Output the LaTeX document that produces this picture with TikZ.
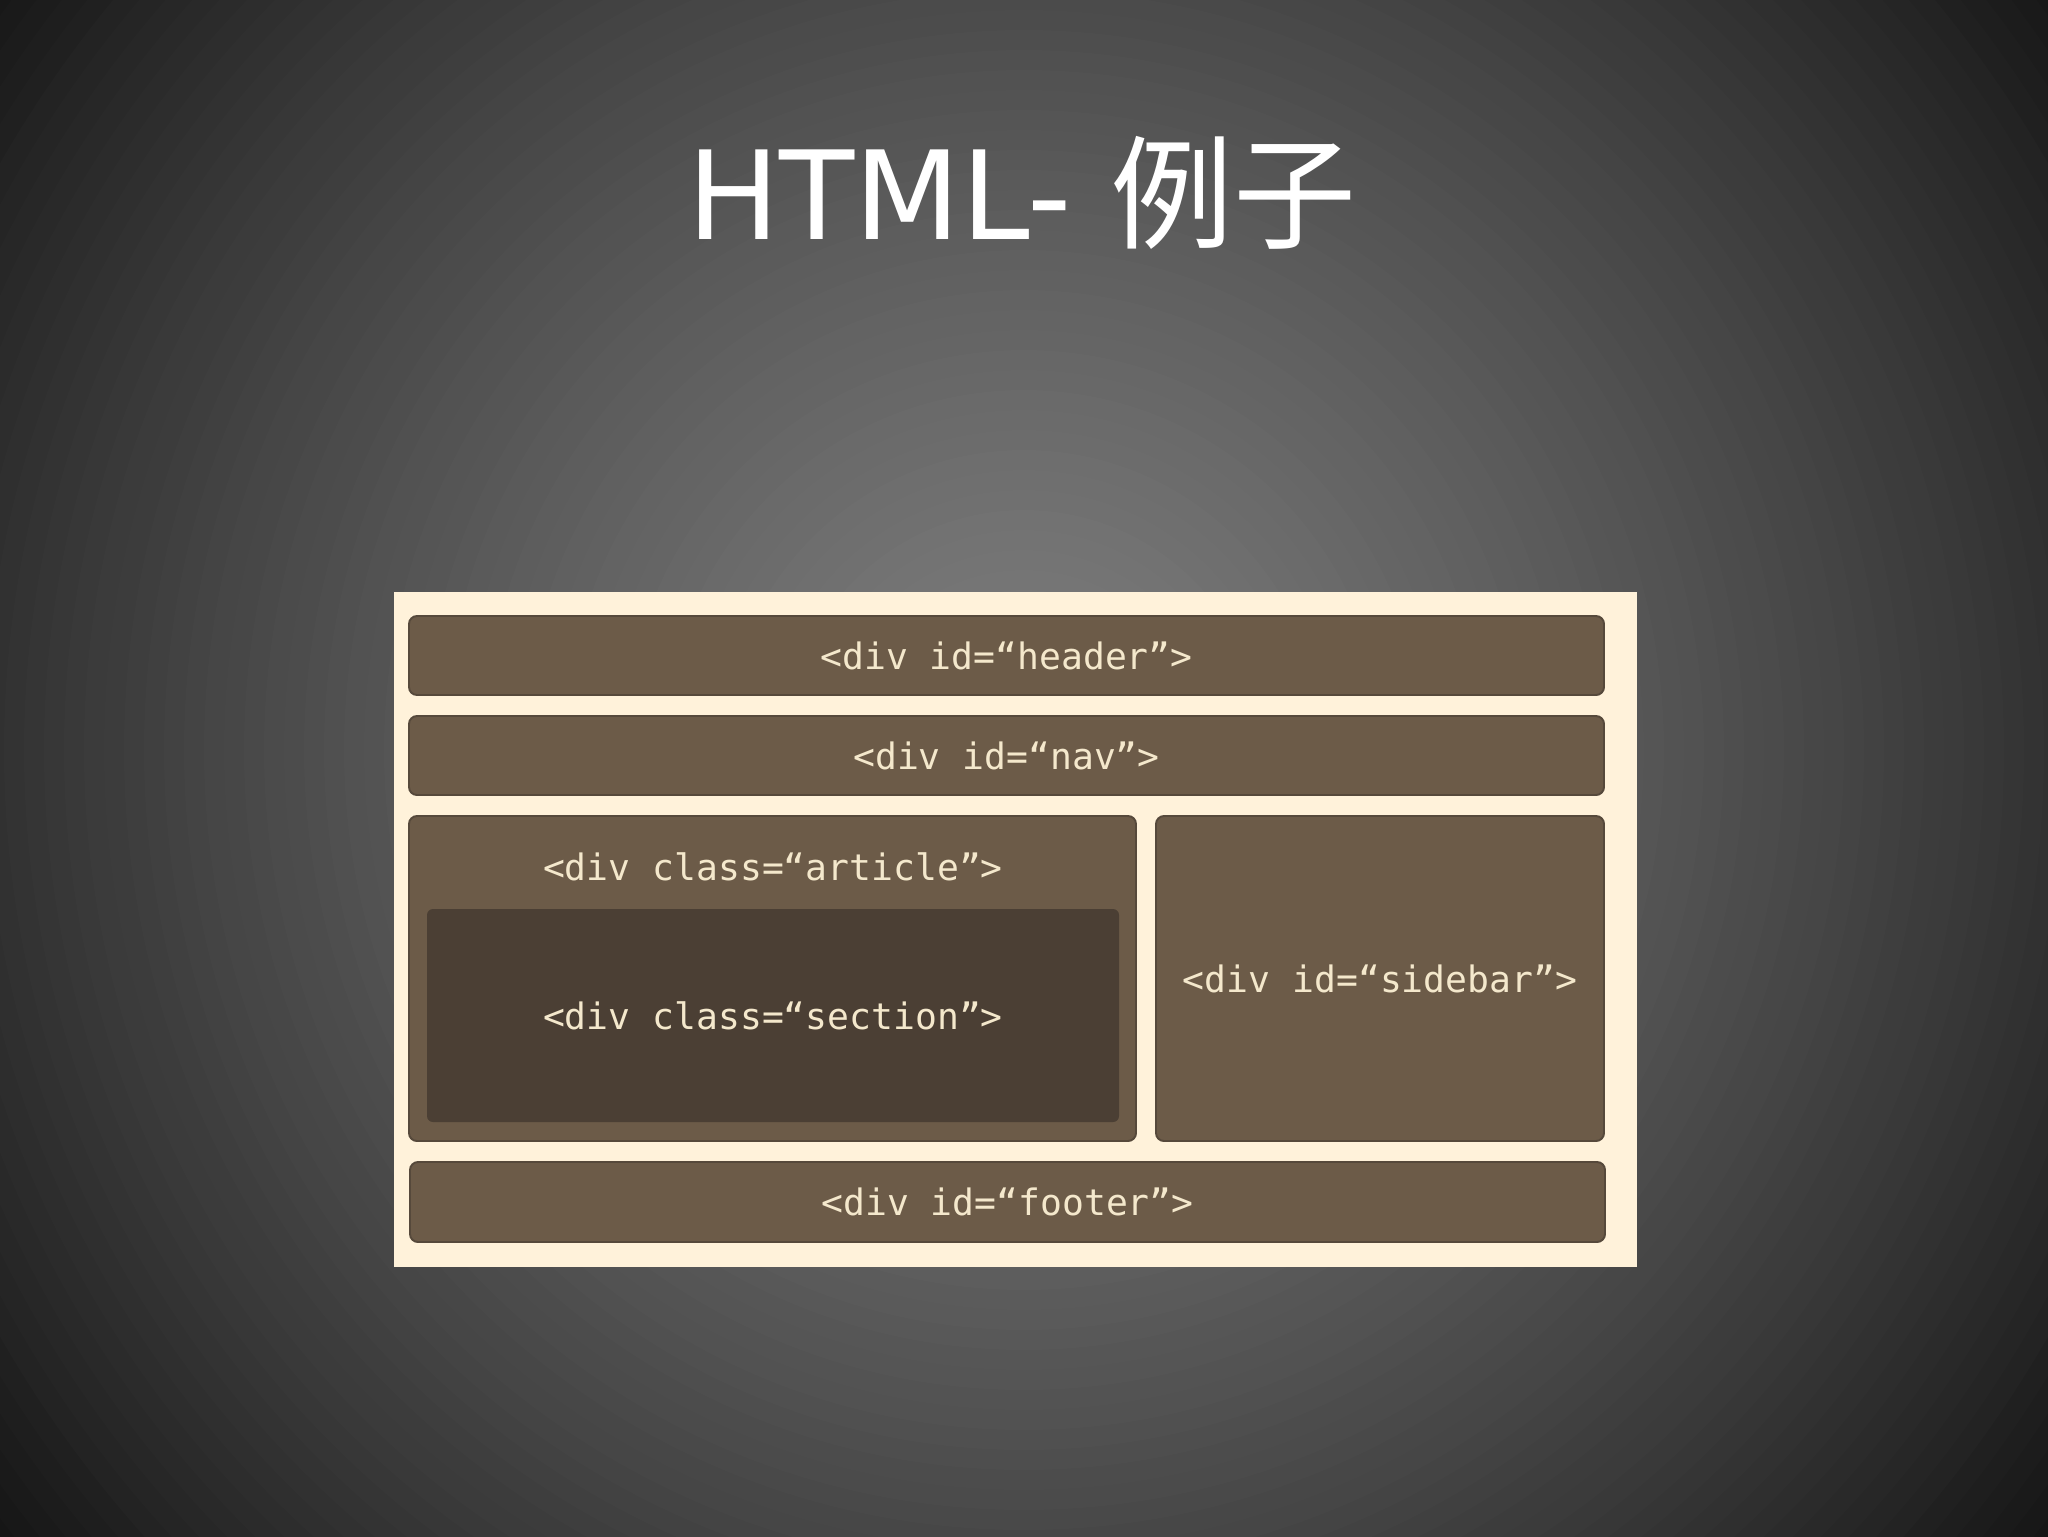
\documentclass[tikz,border=0pt]{standalone}
\usepackage{fontspec}
\setmainfont{DejaVu Sans}
\setmonofont{DejaVu Sans Mono}
\newfontfamily\cjkfont{Noto Sans CJK SC}
\usetikzlibrary{fit}

\definecolor{panelcream}{HTML}{FFF2DA}
\definecolor{divbrown}{HTML}{6C5B48}
\definecolor{divedge}{HTML}{56493B}
\definecolor{sectionbrown}{HTML}{4B3F34}
\definecolor{divtext}{HTML}{F4E8CC}

\tikzset{
  divbox/.style={inner sep=0pt, rounded corners=0.16cm, fill=divbrown, draw=divedge, line width=1.1pt},
  divlabel/.style={inner sep=0pt, text=divtext, font=\fontsize{20.7pt}{24pt}\ttfamily}
}

\begin{document}
\begin{tikzpicture}[x=0.02cm,y=-0.02cm]
  \useasboundingbox (0,0) rectangle (2048,1536);
  % slide background, rings from dark edge to light middle
  \coordinate (bgcenter) at (1024,750);
  \begin{scope}
    \clip (0,0) rectangle (2048,1536);
    \foreach \r in {1320,1300,...,0}{
      \pgfmathsetmacro\g{max(0.08,0.5-0.2055*\r/1000-0.0875*(\r/1000)^2)}
      \definecolor{ringgray}{gray}{\g}
      \fill[ringgray] (bgcenter) circle (\r);
    }
  \end{scope}
  \node[text=white, font=\fontsize{70pt}{84pt}\selectfont, anchor=base] (title) at (1022,239) {HTML- {\cjkfont 例子}};
  % page layout
  \node[fill=panelcream, inner sep=0pt, fit={(394,592) (1637,1267)}] (panel) {};
  \node[divbox, fit={(409,616) (1604,695)}] (header) {};
  \node[divbox, fit={(409,716) (1604,795)}] (nav) {};
  \node[divbox, fit={(409,816) (1136,1141)}] (article) {};
  \node[divbox, fill=sectionbrown, draw=none, rounded corners=0.12cm, fit={(427,909) (1119,1122)}] (section) {};
  \node[divbox, fit={(1156,816) (1604,1141)}] (sidebar) {};
  \node[divbox, fit={(410,1162) (1605,1242)}] (footer) {};
  \node[divlabel] (headertext) at (header.center) {<div id=“header”>};
  \node[divlabel] (navtext) at (nav.center) {<div id=“nav”>};
  \node[divlabel] (articletext) at (773,867) {<div class=“article”>};
  \node[divlabel] (sectiontext) at (section.center) {<div class=“section”>};
  \node[divlabel] (sidebartext) at (sidebar.center) {<div id=“sidebar”>};
  \node[divlabel] (footertext) at (footer.center) {<div id=“footer”>};
\end{tikzpicture}
\end{document}
